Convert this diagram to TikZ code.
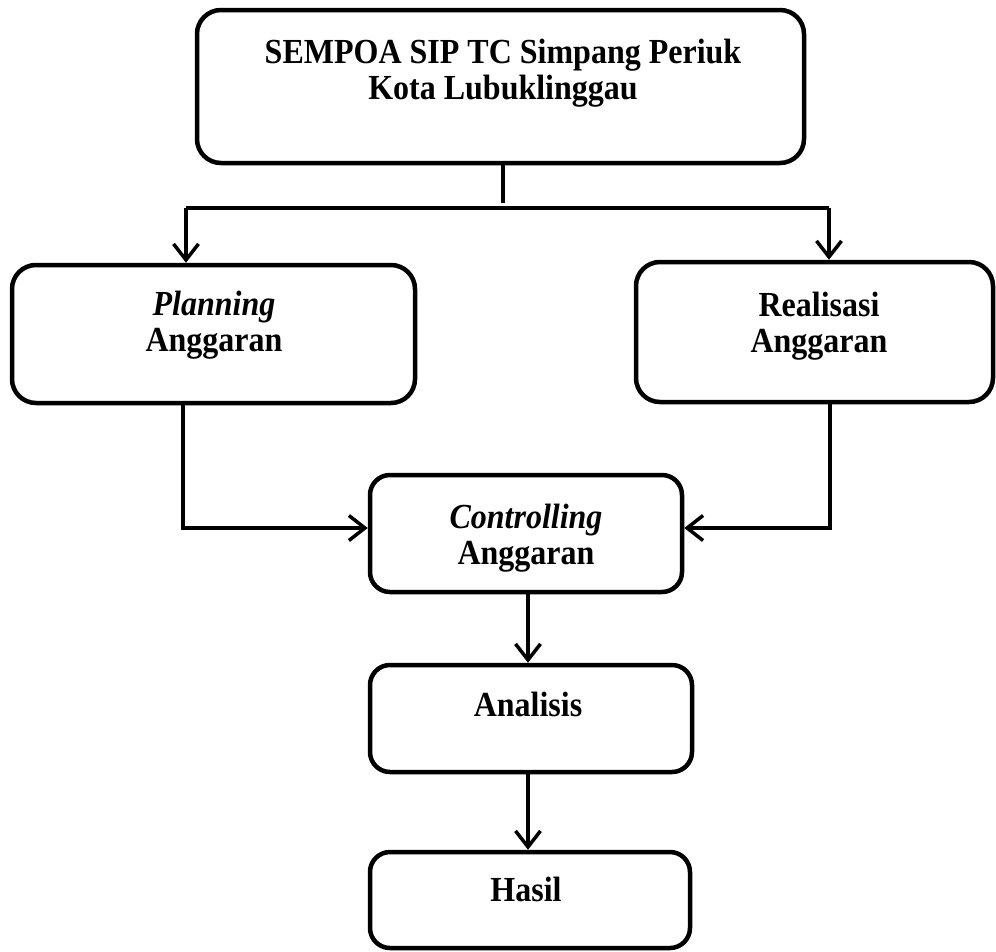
\documentclass[tikz,border=0pt]{standalone}
\usepackage{fontspec}
\setmainfont{Liberation Serif}
\usetikzlibrary{arrows.meta}
\newcommand{\boxtext}[1]{\scalebox{1}[1.1]{\begin{tabular}[t]{@{}c@{}}#1\end{tabular}}}
\tikzset{
  box/.style={draw=black, line width=4.5pt, rounded corners=24pt, inner sep=0pt, fill=white},
  sbox/.style={box, rounded corners=20pt},
  txt/.style={inner sep=0pt, font=\fontsize{32}{33}\selectfont\bfseries, anchor=base},
  conn/.style={draw=black, line width=3.5pt},
  arr/.style={conn, -{Straight Barb[length=16pt, width=25pt, line width=3.5pt]}},
}
\begin{document}
\begin{tikzpicture}[x=1pt, y=-1pt]
\useasboundingbox[fill=white] (0,0) rectangle (996,951);
% boxes
\node[box, minimum width=607pt, minimum height=153pt] (top) at (500.5,86.5) {};
\node[box, minimum width=403pt, minimum height=138pt] (plan) at (213.5,334) {};
\node[box, minimum width=357pt, minimum height=140pt] (real) at (814.5,332) {};
\node[sbox, minimum width=312pt, minimum height=117pt] (ctrl) at (526,533.5) {};
\node[sbox, minimum width=322pt, minimum height=107pt] (anal) at (531,718.5) {};
\node[sbox, minimum width=320pt, minimum height=96pt] (hasil) at (530,900) {};
% texts
\node[txt] (toptxt) at (503,63) {\boxtext{SEMPOA SIP TC Simpang Periuk\\Kota Lubuklinggau}};
\node[txt] (plantxt) at (214,315) {\boxtext{\itshape Planning\\Anggaran}};
\node[txt] (realtxt) at (819,316) {\boxtext{Realisasi\\Anggaran}};
\node[txt] (ctrltxt) at (526,528) {\boxtext{\itshape Controlling\\Anggaran}};
\node[txt] (analtxt) at (528,716) {\boxtext{Analisis}};
\node[txt] (hasiltxt) at (526,901) {\boxtext{Hasil}};
% connectors
\coordinate (j) at (503,203);
\coordinate (bl) at (186,208);
\coordinate (br) at (829,208);
\coordinate (pc) at (183,528);
\coordinate (rc) at (830,528);
\coordinate (mx) at (528,0);
\draw[conn] (top.south -| j) -- (j);
\draw[conn] (bl) -- (br);
\draw[arr] (bl) -- (bl |- plan.north);
\draw[arr] (br) -- (br |- real.north);
\draw[arr] (pc |- plan.south) |- (ctrl.west |- pc);
\draw[arr] (rc |- real.south) |- (ctrl.east |- rc);
\draw[arr] (mx |- ctrl.south) -- (mx |- anal.north);
\draw[arr] (mx |- anal.south) -- (mx |- hasil.north);
\end{tikzpicture}
\end{document}
